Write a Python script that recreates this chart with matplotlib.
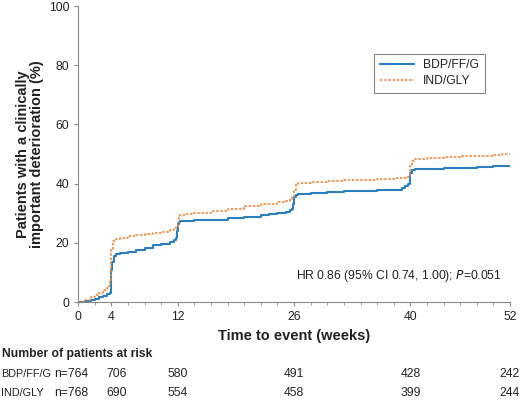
import matplotlib
matplotlib.use("Agg")
import matplotlib.pyplot as plt
from matplotlib.ticker import MultipleLocator

plt.rcParams['font.family'] = ['Liberation Sans', 'DejaVu Sans']

# Kaplan-Meier style cumulative curves (weeks, %)
t_bdp = [0, 0.8, 1.5, 2, 2.5, 3, 3.5, 3.8, 3.9, 4.0, 4.1, 4.3, 4.6, 5, 6, 7, 8, 9, 10, 11,
         11.5, 11.8, 11.9, 12.0, 12.1, 12.3, 14, 16, 18, 20, 22, 23, 24, 25, 25.5, 25.8, 25.9, 26.0, 26.2, 26.5,
         28, 30, 32, 34, 36, 37, 38, 39, 39.4, 39.7, 39.9, 40.0, 40.2, 40.6, 42, 44, 46, 48, 50, 52]
v_bdp = [0, 0.3, 0.8, 1.2, 1.6, 2.0, 2.6, 3.2, 6, 11, 13.5, 15.5, 16.2, 16.6, 17.1, 17.6, 18.4, 19.2, 19.8, 20.4,
         20.9, 21.6, 24, 26.5, 27.2, 27.4, 27.6, 27.9, 28.3, 28.7, 29.3, 29.6, 30.0, 30.5, 31.0, 31.5, 33, 35.5, 36.2, 36.6,
         37.0, 37.2, 37.4, 37.6, 37.8, 37.9, 38.0, 38.5, 39.2, 40, 41.5, 43.5, 44.5, 44.8, 45.0, 45.2, 45.4, 45.6, 45.9, 46.1]

t_ind = [0, 0.8, 1.5, 2, 2.5, 3, 3.5, 3.7, 3.8, 3.9, 4.0, 4.2, 4.5, 5, 6, 7, 8, 9, 10, 11,
         11.5, 11.8, 12.0, 12.1, 12.3, 13, 14, 16, 18, 20, 22, 24, 25, 25.5, 25.8, 26.0, 26.2, 26.5, 28, 30,
         32, 34, 36, 38, 39, 39.5, 39.8, 40.0, 40.2, 40.5, 42, 44, 46, 48, 50, 51, 52]
v_ind = [0, 0.8, 1.8, 2.5, 3.2, 4.0, 4.8, 5.5, 7, 12, 18, 20.5, 21.3, 21.8, 22.2, 22.6, 23.0, 23.3, 23.8, 24.2,
         24.8, 25.5, 27, 28.8, 29.3, 29.8, 30.2, 30.8, 31.5, 32.5, 33.2, 33.8, 34.2, 34.8, 35.5, 38, 39.8, 40.2, 40.6, 41.0,
         41.2, 41.4, 41.6, 41.8, 42.0, 42.3, 43, 46, 47.8, 48.4, 48.8, 49.0, 49.2, 49.4, 49.6, 49.9, 50.1]

risk_weeks = [4, 12, 26, 40, 52]
risk_bdp = [706, 580, 491, 428, 242]
risk_ind = [690, 554, 458, 399, 244]
n_bdp, n_ind = 764, 768

txt = '#222222'
fs = 8.7
fig = plt.figure(figsize=(5.28, 4.05), dpi=100)
ax = fig.add_axes([0.148, 0.254, 0.818, 0.731])

ax.plot(t_bdp, v_bdp, drawstyle='steps-post', color='#2a7fc0', lw=1.5, label='BDP/FF/G')
ax.plot(t_ind, v_ind, drawstyle='steps-post', color='#f0883a', lw=1.2,
        linestyle=(0, (1.5, 1)), label='IND/GLY')

ax.set_xlim(0, 52)
ax.set_ylim(0, 100)
ax.set_xticks([0, 4, 12, 26, 40, 52])
ax.xaxis.set_minor_locator(MultipleLocator(2))
ax.set_yticks(range(0, 101, 20))
for s in ['top', 'right']:
    ax.spines[s].set_visible(False)
for s in ['left', 'bottom']:
    ax.spines[s].set_color('#888888')
ax.tick_params(colors='#888888', labelcolor=txt, labelsize=fs, length=3)
ax.tick_params(which='minor', colors='#888888', length=2)

ax.set_ylabel('Patients with a clinically\nimportant deterioration (%)', fontsize=10.5,
              fontweight='bold', color=txt, linespacing=1.0, labelpad=3)
ax.set_xlabel('Time to event (weeks)', fontsize=10.5, fontweight='bold', color=txt, labelpad=4)

leg = ax.legend(loc='upper left', bbox_to_anchor=(0.672, 0.86), fontsize=fs, frameon=True,
                fancybox=False, handlelength=2.8, borderpad=0.45, labelspacing=0.35)
leg.get_frame().set_edgecolor('#666666')
leg.get_frame().set_linewidth(0.8)
for t in leg.get_texts():
    t.set_color(txt)

ax.text(51, 8.7, 'HR 0.86 (95% CI 0.74, 1.00); $\\it{P}$=0.051', ha='right', va='center',
        fontsize=fs, color=txt)

tr = ax.get_xaxis_transform()
ax.text(-9.2, -0.176, 'Number of patients at risk', transform=tr, fontsize=fs,
        fontweight='bold', color=txt, ha='left', va='center', clip_on=False)
rows = [('BDP/FF/G', n_bdp, risk_bdp, -0.243), ('IND/GLY', n_ind, risk_ind, -0.307)]
for name, n0, vals, yy in rows:
    ax.text(-9.3, yy, name, transform=tr, fontsize=7.8, color=txt, ha='left', va='center', clip_on=False)
    ax.text(1.2, yy, 'n=%d' % n0, transform=tr, fontsize=fs, color=txt, ha='right', va='center', clip_on=False)
    for w, v in zip(risk_weeks, vals):
        ax.text(w + (0.6 if w == 4 else 0), yy, str(v), transform=tr, fontsize=fs, color=txt,
                ha='center', va='center', clip_on=False)

fig.savefig('out.png', dpi=100)
